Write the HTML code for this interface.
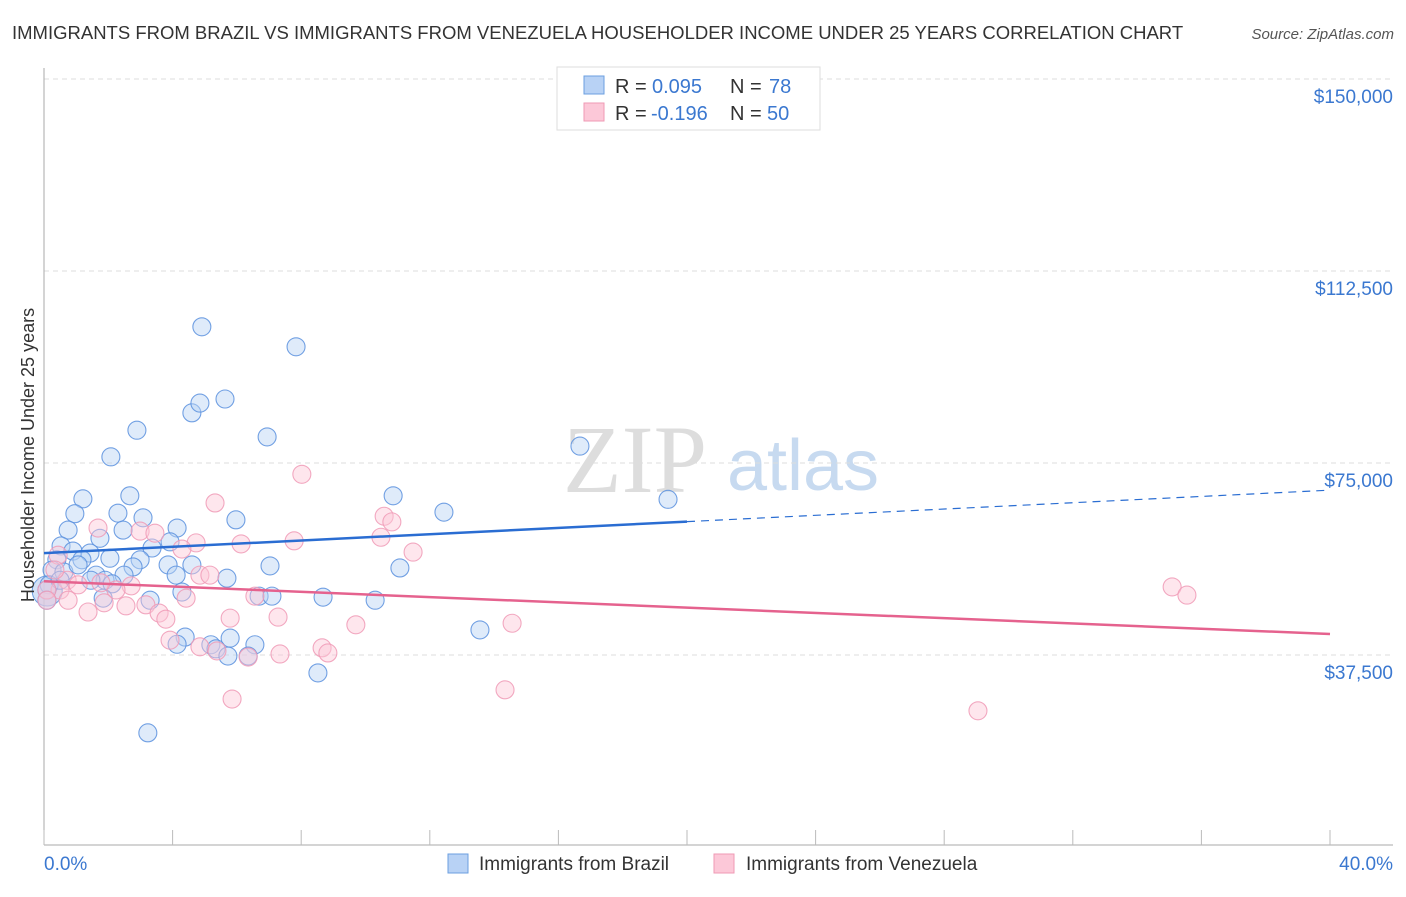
<!DOCTYPE html>
<html><head><meta charset="utf-8"><style>
body{margin:0;background:#fff;font-family:"Liberation Sans",sans-serif}
</style></head><body>
<svg width="1406" height="892" viewBox="0 0 1406 892" xmlns="http://www.w3.org/2000/svg" font-family="Liberation Sans, sans-serif">
<text x="12" y="39" font-size="18.5" fill="#333">IMMIGRANTS FROM BRAZIL VS IMMIGRANTS FROM VENEZUELA HOUSEHOLDER INCOME UNDER 25 YEARS CORRELATION CHART</text>
<text x="1394" y="39" font-size="15" fill="#555" font-style="italic" text-anchor="end">Source: ZipAtlas.com</text>
<g>
<text x="635" y="492" font-size="96" font-family="Liberation Serif, serif" fill="#ddd" text-anchor="middle">ZIP</text>
<text x="803" y="490" font-size="72" fill="#c7daf0" text-anchor="middle">atlas</text>
</g>
<g id="grid"></g>
<g id="axes"></g>
<g id="marks"></g>
<text transform="translate(34,455) rotate(-90)" font-size="18" fill="#333" text-anchor="middle">Householder Income Under 25 years</text>
<g>
<rect x="557" y="67" width="263" height="63" fill="#fff" stroke="#ddd"/>
<rect x="584" y="76" width="20" height="18" fill="#b8d2f5" stroke="#6b9fe0"/>
<rect x="584" y="103" width="20" height="18" fill="#fcc8d8" stroke="#ef9ab4"/>
<text x="615" y="93" font-size="20" fill="#333">R =</text>
<text x="652" y="93" font-size="20" fill="#3b78d0">0.095</text>
<text x="730" y="93" font-size="20" fill="#333">N =</text>
<text x="769" y="93" font-size="20" fill="#3b78d0">78</text>
<text x="615" y="120" font-size="20" fill="#333">R =</text>
<text x="651" y="120" font-size="20" fill="#3b78d0">-0.196</text>
<text x="730" y="120" font-size="20" fill="#333">N =</text>
<text x="767" y="120" font-size="20" fill="#3b78d0">50</text>
</g>
<g>
<rect x="448" y="854" width="20" height="19" fill="#b8d2f5" stroke="#6b9fe0"/>
<text x="479" y="870" font-size="19" fill="#333">Immigrants from Brazil</text>
<rect x="714" y="854" width="20" height="19" fill="#fcc8d8" stroke="#ef9ab4"/>
<text x="746" y="870" font-size="19" fill="#333">Immigrants from Venezuela</text>
</g>
</svg>
<script>
const yTicks=[37500,75000,112500,150000];
const yTickLabels=["$37,500","$75,000","$112,500","$150,000"];
const xTicks=[0,4,8,12,16,20,24,28,32,36,40];
const brazilX=[4.91,7.84,4.60,4.85,5.63,2.89,6.94,2.08,16.67,19.41,10.86,2.67,1.21,0.96,2.30,3.08,5.97,12.44,0.75,4.14,2.46,1.74,0.53,3.36,3.92,0.90,1.43,0.40,1.18,2.05,2.99,3.86,4.60,7.03,11.07,0.25,0.62,1.62,2.77,4.11,5.69,1.90,2.49,2.12,1.46,0.16,4.29,3.30,6.69,7.09,8.68,10.30,1.84,13.56,4.39,4.14,5.19,5.79,6.56,5.35,5.72,6.35,8.52,3.23,0.09,0.09,0.50,1.06];
const brazilY=[101.6,97.7,84.8,86.7,87.5,81.4,80.1,76.2,78.3,67.9,68.6,68.6,68.0,65.1,65.2,64.3,63.9,65.4,61.9,62.3,61.9,60.3,58.8,58.4,59.6,57.8,57.4,56.1,56.1,56.4,56.1,55.1,55.1,54.9,54.5,54.1,53.7,53.1,54.7,53.1,52.5,52.1,53.1,51.4,52.1,51.2,49.8,48.2,49.0,49.0,48.8,48.2,48.6,42.4,41.0,39.6,39.5,40.8,39.5,38.7,37.3,37.3,34.0,22.3,50.2,48.2,52.1,55.1];
const venX=[8.02,10.58,10.82,1.68,2.99,5.32,3.45,4.73,6.13,7.78,10.48,11.48,0.44,0.72,4.29,4.85,5.16,2.71,2.24,1.77,1.06,0.50,0.09,0.09,0.75,1.87,1.37,2.55,3.17,3.58,3.79,4.42,6.56,5.79,7.28,9.70,14.56,4.85,5.38,6.35,7.34,8.65,8.83,5.85,14.34,35.09,35.55,29.05,0.34,3.92];
const venY=[72.8,64.6,63.5,62.3,61.7,67.2,61.3,59.4,59.2,59.8,60.5,57.6,57.0,52.1,58.2,53.1,53.1,51.0,50.2,51.6,51.2,50.2,50.2,48.2,48.2,47.7,45.9,47.1,47.3,45.7,44.5,48.6,49.0,44.7,44.9,43.4,43.7,39.1,38.3,37.1,37.7,38.9,37.9,28.9,30.7,50.8,49.2,26.6,54.1,40.4];
const brazilTrend=[57.4,69.7];
const venTrend=[51.9,41.6];
const brazilSolidEnd=20;
const NS="http://www.w3.org/2000/svg";
const X=v=>44+v/40*1286;
const Y=v=>847-v/150000*768;
const Yk=v=>Y(v*1000);
function mk(tag,attrs,parent){const e=document.createElementNS(NS,tag);for(const k in attrs)e.setAttribute(k,attrs[k]);document.getElementById(parent).appendChild(e);return e;}
yTicks.forEach((t,i)=>{
 const l=mk('line',{x1:44,x2:1393,y1:Y(t),y2:Y(t),stroke:'#ddd','stroke-dasharray':'5,4'},'grid');
 
 
 const tx=mk('text',{x:1393,y:Y(t)+24,'font-size':19,fill:'#3b78d0','text-anchor':'end'},'axes');
 tx.textContent=yTickLabels[i];
 
 
});
const ya=mk('line',{x1:44,x2:44,y1:68,y2:845,stroke:'#aaa'},'axes');


const xa=mk('line',{x1:44,x2:1393,y1:845,y2:845,stroke:'#aaa'},'axes');


xTicks.forEach(t=>{
 const l=mk('line',{x1:X(t),x2:X(t),y1:830,y2:845,stroke:'#bbb'},'axes');
 
 
});
const x0=mk('text',{x:44,y:870,'font-size':19,fill:'#3b78d0'},'axes');x0.textContent='0.0%';


const x1=mk('text',{x:1393,y:870,'font-size':19,fill:'#3b78d0','text-anchor':'end'},'axes');x1.textContent='40.0%';


function dots(xs,ys,fill,stroke,name){
 xs.forEach((x,i)=>{
  const c=mk('circle',{cx:X(x),cy:Yk(ys[i]),r:9,fill:fill,'fill-opacity':0.45,stroke:stroke,'stroke-width':1.1,'stroke-opacity':0.85},'marks');
  
  
 });
}
const big1=mk('circle',{cx:X(0.1),cy:Yk(50),r:15,fill:'#a9c3ec','fill-opacity':0.5,stroke:'#6b9fe0'},'marks');


dots(brazilX,brazilY,'#b8d2f5','#5a90de','brazil-point');
dots(venX,venY,'#fcc8d8','#f09ab6','venezuela-point');
const bl=mk('line',{x1:X(0),y1:Yk(brazilTrend[0]),x2:X(brazilSolidEnd),y2:Yk(brazilTrend[0]+(brazilTrend[1]-brazilTrend[0])*brazilSolidEnd/40),stroke:'#2a6dd2','stroke-width':2.5},'marks');


const bd=mk('line',{x1:X(brazilSolidEnd),y1:Yk(brazilTrend[0]+(brazilTrend[1]-brazilTrend[0])*brazilSolidEnd/40),x2:X(40),y2:Yk(brazilTrend[1]),stroke:'#2a6dd2','stroke-width':1.2,'stroke-dasharray':'8,6'},'marks');


const vl=mk('line',{x1:X(0),y1:Yk(venTrend[0]),x2:X(40),y2:Yk(venTrend[1]),stroke:'#e5628e','stroke-width':2.5},'marks');


const topGrid=mk('line',{x1:44,x2:1393,y1:Y(150000),y2:Y(150000),stroke:'#ddd','stroke-dasharray':'5,4'},'grid');


</script>
</body></html>
